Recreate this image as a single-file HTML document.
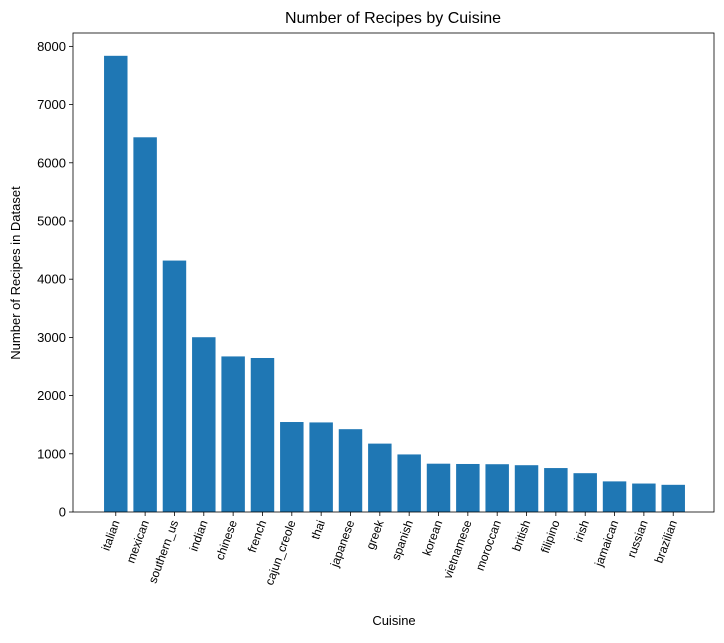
<!DOCTYPE html>
<html><head><meta charset="utf-8"><style>
body{margin:0;background:#fff;}
svg text{font-family:"Liberation Sans","DejaVu Sans",sans-serif;fill:#000;}
</style></head><body>
<svg id="chart" width="724" height="638" xmlns="http://www.w3.org/2000/svg">
<text x="393" y="23" text-anchor="middle" font-size="16">Number of Recipes by Cuisine</text>
<g id="plot"></g>
<text x="394" y="625" text-anchor="middle" font-size="13">Cuisine</text>
<text transform="translate(20,273) rotate(-90)" text-anchor="middle" font-size="13">Number of Recipes in Dataset</text>
</svg>
<script>
const categories=["italian","mexican","southern_us","indian","chinese","french","cajun_creole","thai","japanese","greek","spanish","korean","vietnamese","moroccan","british","filipino","irish","jamaican","russian","brazilian"];
const counts=[7838,6438,4320,3003,2673,2646,1546,1539,1423,1175,989,830,825,821,804,755,667,526,489,467];
const yTicks=[0,1000,2000,3000,4000,5000,6000,7000,8000];

const L=73,R=714,T=33,B=512;
const n=categories.length;
const xmin=-0.4-0.05*(n-0.2), xmax=n-0.6+0.05*(n-0.2);
const ymax=Math.max(...counts)*1.05;
const xs=v=>L+2+(v-xmin)/(xmax-xmin)*(R-L-2);
const ys=v=>B-v/ymax*(B-T);
const NS="http://www.w3.org/2000/svg";
const g=document.getElementById('plot');
function mk(tag,attrs){const e=document.createElementNS(NS,tag);for(const k in attrs)e.setAttribute(k,attrs[k]);g.appendChild(e);return e;}
const bw=xs(0.8)-xs(0);
counts.forEach((c,i)=>{
  const r=mk('rect',{x:xs(i-0.4),y:ys(c),width:bw,height:B-ys(c),fill:'#1f77b4'});
  
  
  const t=mk('line',{x1:xs(i),x2:xs(i),y1:B,y2:B+4,stroke:'#000','stroke-width':0.8});
  
  
  const lb=mk('text',{transform:`translate(${xs(i)+4},${B+10}) rotate(-70)`,'text-anchor':'end','font-size':12});
  lb.textContent=categories[i];
  
  
});
yTicks.forEach(v=>{
  const t=mk('line',{x1:L-4,x2:L,y1:ys(v),y2:ys(v),stroke:'#000','stroke-width':0.8});
  
  
  const lb=mk('text',{x:L-7,y:ys(v)+4.5,'text-anchor':'end','font-size':13});
  lb.textContent=v;
  
  
});
const f=mk('rect',{x:L,y:T,width:R-L,height:B-T,fill:'none',stroke:'#000','stroke-width':0.8});


</script>
</body></html>
